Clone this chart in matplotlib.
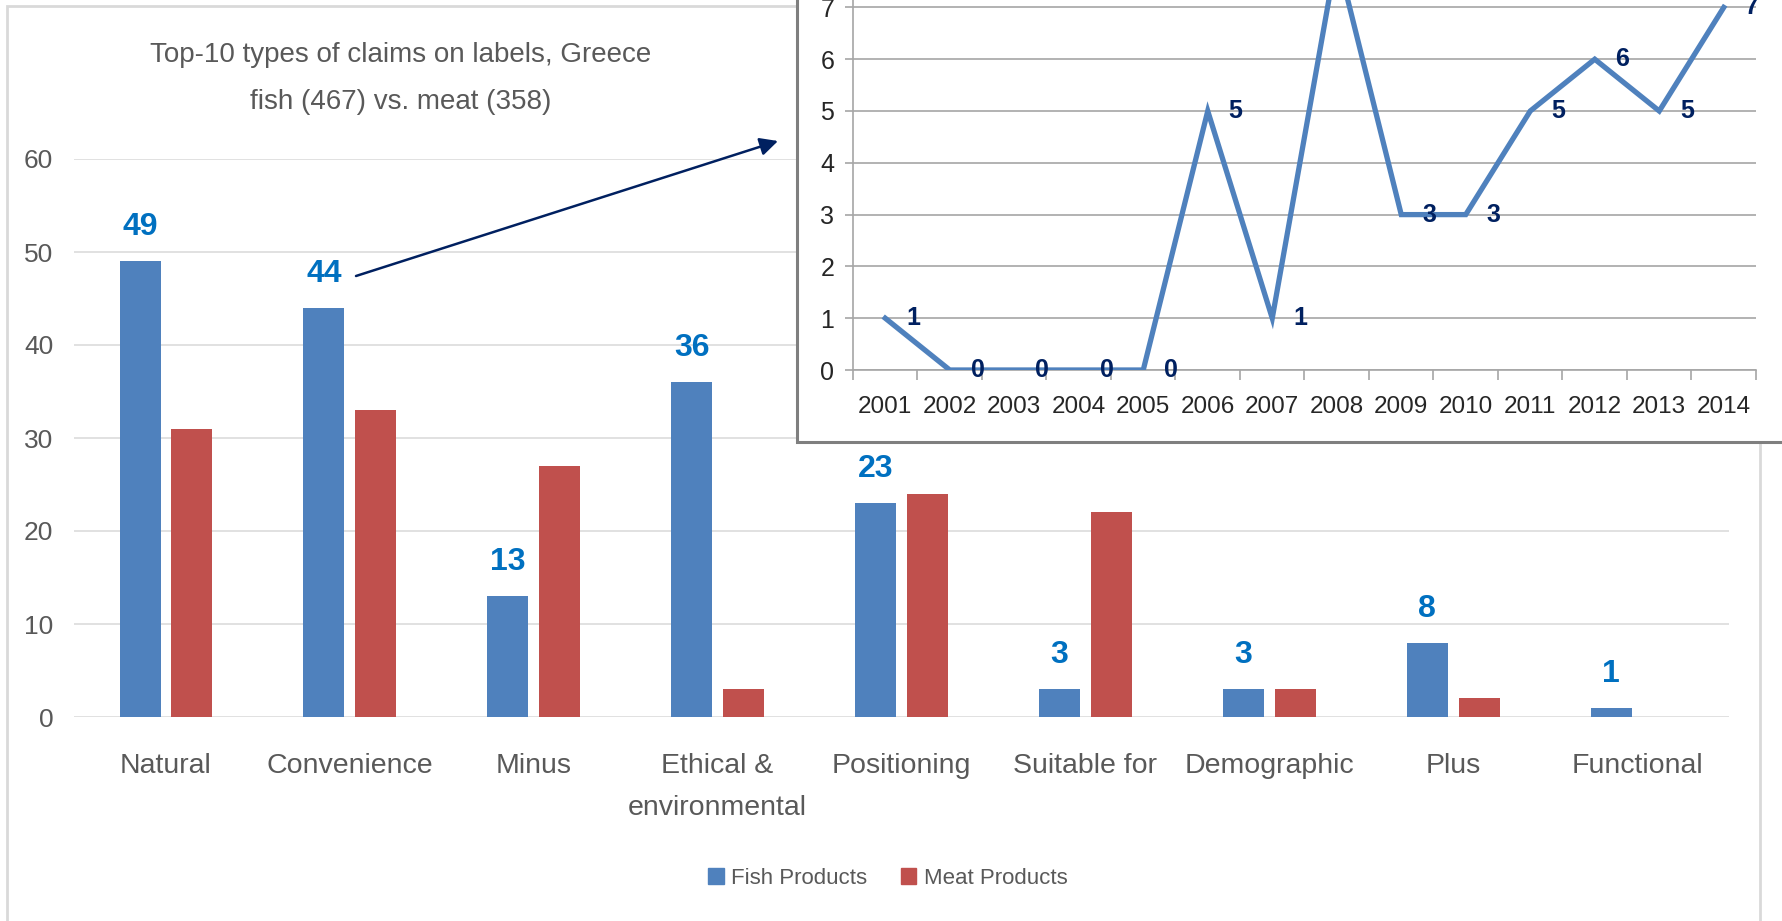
import numpy as np
import matplotlib
matplotlib.use("Agg")
import matplotlib.pyplot as plt
from matplotlib.patches import Rectangle, FancyArrowPatch, Patch

plt.rcParams["font.family"] = ["Liberation Sans Narrow", "Liberation Sans", "DejaVu Sans"]

# Claim types on labels, fish vs. meat
categories = ["Natural", "Convenience", "Minus", "Ethical &\nenvironmental", "Positioning",
              "Suitable for", "Demographic", "Plus", "Functional"]
fish = [49, 44, 13, 36, 23, 3, 3, 8, 1]
meat = [31, 33, 27, 3, 24, 22, 3, 2, 0]

# Convenience claims on fish products per year
years = ["2001", "2002", "2003", "2004", "2005", "2006", "2007",
         "2008", "2009", "2010", "2011", "2012", "2013", "2014"]
convenience_per_year = [1, 0, 0, 0, 0, 5, 1, 8, 3, 3, 5, 6, 5, 7]

W, H = 1783, 921
BLUE = "#4F81BD"
RED = "#C0504D"
TEXT = "#595959"
NAVY = "#002060"


def fx(px):
    return px / W


def fy(py):
    return 1 - py / H


fig = plt.figure(figsize=(W / 100, H / 100), dpi=100)

# outer chart border
fig.add_artist(Rectangle((fx(7), fy(960)), (1760 - 7) / W, (960 - 6) / H,
                         transform=fig.transFigure, fill=False,
                         ec="#D9D9D9", lw=2.0, zorder=-1))

# main bar chart
ax = fig.add_axes([fx(74), fy(717), (1729 - 74) / W, (717 - 159) / H], zorder=0)
ax.patch.set_alpha(0)
x = np.arange(len(categories))
bw = 0.223
off = 0.141
ax.bar(x - off, fish, bw, color=BLUE, zorder=2, label="Fish Products")
ax.bar(x + off, meat, bw, color=RED, zorder=2, label="Meat Products")
for xi, v in zip(x, fish):
    ax.annotate(str(v), (xi - off, v), xytext=(0, 24.5), textcoords="offset points",
                ha="center", va="center", color="#0070C0", fontsize=23, fontweight="bold")

ax.set_xlim(-0.5, len(categories) - 0.5)
ax.set_ylim(0, 60)
ax.set_yticks(np.arange(0, 61, 10))
ax.grid(axis="y", color="#D9D9D9", lw=1.1, zorder=0)
for s in ax.spines.values():
    s.set_visible(False)
ax.tick_params(axis="y", length=0, pad=15, labelsize=19, labelcolor=TEXT)
ax.set_xticks(x)
ax.set_xticklabels(categories)
ax.tick_params(axis="x", length=0, pad=26, labelsize=20.5, labelcolor=TEXT)
for t in ax.get_xticklabels():
    t.set_linespacing(1.8)

fig.text(fx(401), fy(55), "Top-10 types of claims on labels, Greece",
         ha="center", va="center", fontsize=20, color=TEXT)
fig.text(fx(401), fy(102), "fish (467) vs. meat (358)",
         ha="center", va="center", fontsize=20, color=TEXT)

handles = [Patch(color=BLUE), Patch(color=RED)]
fig.legend(handles, ["Fish Products", "Meat Products"], loc="center",
           bbox_to_anchor=(fx(888), fy(878)), ncol=2, frameon=False,
           fontsize=16, labelcolor=TEXT, handlelength=0.7, handleheight=0.7,
           handletextpad=0.35, columnspacing=1.5)

# inset box with the yearly line
fig.add_artist(Rectangle((fx(797), fy(442)), (1850 - 797) / W, (442 + 40) / H,
                         transform=fig.transFigure, fc="white",
                         ec="#7F7F7F", lw=2.2, zorder=1))

unit = 51.8
ax2 = fig.add_axes([fx(853), fy(370), (1756 - 853) / W, 8 * unit / H], zorder=2)
ax2.patch.set_alpha(0)
xs = np.arange(len(years))
ax2.plot(xs, convenience_per_year, color=BLUE, lw=3.8, solid_joinstyle="miter", zorder=3)
for xi, v in zip(xs, convenience_per_year):
    ax2.annotate(str(v), (xi, v), xytext=(20, 0), textcoords="offset points",
                 ha="center", va="center", color=NAVY, fontsize=18, fontweight="bold",
                 zorder=4)

ax2.set_xlim(-0.5, len(years) - 0.5)
ax2.set_ylim(0, 8)
ax2.set_yticks(np.arange(0, 9, 1))
ax2.grid(axis="y", color="#A6A6A6", lw=1.2, zorder=0)
ax2.spines["top"].set_visible(False)
ax2.spines["right"].set_visible(False)
ax2.spines["left"].set_color("#A6A6A6")
ax2.spines["bottom"].set_color("#A6A6A6")
ax2.spines["left"].set_linewidth(1.2)
ax2.spines["bottom"].set_linewidth(1.2)
ax2.set_xticks(xs)
ax2.set_xticklabels(years)
ax2.set_xticks(np.arange(-0.5, len(years), 1), minor=True)
ax2.tick_params(axis="x", which="major", length=0, pad=19, labelsize=17.5, labelcolor="#262626")
ax2.tick_params(axis="x", which="minor", length=7, width=1.2, color="#A6A6A6")
ax2.tick_params(axis="y", length=5.5, width=1.2, color="#A6A6A6", pad=8,
                labelsize=18, labelcolor="#262626")

# arrow pointing from the convenience bar to the inset
fig.add_artist(FancyArrowPatch((fx(356), fy(276)), (fx(778), fy(141)),
                               transform=fig.transFigure, arrowstyle="-|>",
                               mutation_scale=27, color=NAVY, lw=1.8,
                               shrinkA=0, shrinkB=0, zorder=3))

fig.savefig("out.png", dpi=100)
